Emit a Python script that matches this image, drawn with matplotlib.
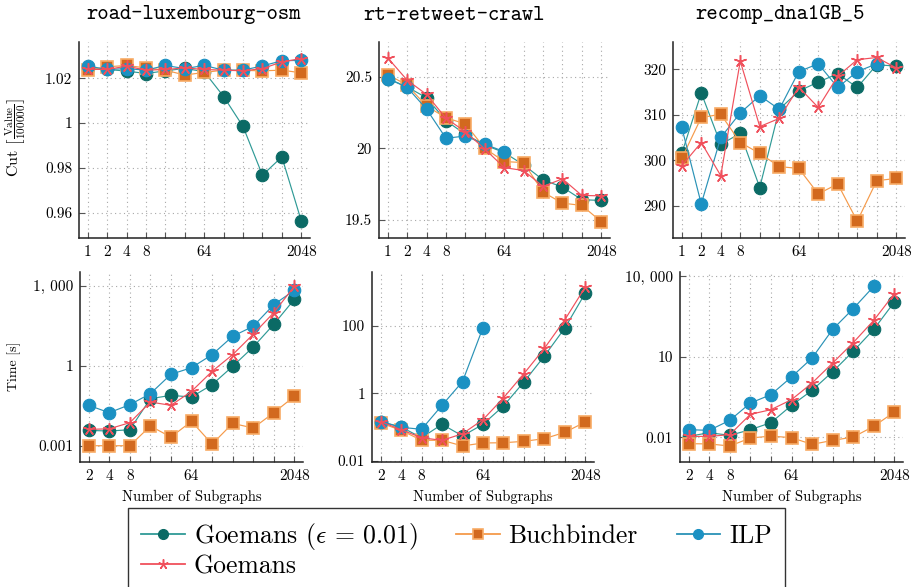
import numpy as np
import matplotlib
matplotlib.use("Agg")
import matplotlib.pyplot as plt
from matplotlib.lines import Line2D
from matplotlib.ticker import FixedLocator, FixedFormatter, NullLocator

plt.rcParams["mathtext.fontset"] = "cm"
plt.rcParams["font.family"] = ["cmr10", "DejaVu Serif"]
plt.rcParams["axes.unicode_minus"] = False
plt.rcParams["axes.formatter.use_mathtext"] = True

# ---------------------------------------------------------------- data
k_cut = [1, 2, 4, 8, 16, 32, 64, 128, 256, 512, 1024, 2048]
k_time = [2, 4, 8, 16, 32, 64, 128, 256, 512, 1024, 2048]
labeled_cut = [1, 2, 4, 8, 64, 2048]
labeled_time = [2, 4, 8, 64, 2048]

instances = ["road-luxembourg-osm", "rt-retweet-crawl", "recomp_dna1GB_5"]
series_names = ["Goemans ($\\epsilon\\,=\\,0.01$)", "Buchbinder", "ILP", "Goemans"]

# cut value / 100000, road-luxembourg-osm
lux_cut_geps = [1.0245, 1.0240, 1.0233, 1.0222, 1.0234, 1.0245, 1.0230, 1.0119, 0.9985, 0.9767, 0.9849, 0.9563]
lux_cut_buch = [1.0237, 1.0252, 1.0258, 1.0247, 1.0237, 1.0215, 1.0227, 1.0237, 1.0236, 1.0234, 1.0237, 1.0225]
lux_cut_ilp = [1.0256, 1.0240, 1.0244, 1.0237, 1.0258, 1.0244, 1.0258, 1.0237, 1.0237, 1.0256, 1.0279, 1.0281]
lux_cut_goem = [1.0241, 1.0240, 1.0255, 1.0237, 1.0240, 1.0247, 1.0240, 1.0237, 1.0234, 1.0244, 1.0274, 1.0289]

# cut value / 100000, rt-retweet-crawl
rt_cut_geps = [20.488, 20.430, 20.353, 20.193, 20.098, 20.023, 19.970, 19.884, 19.779, 19.728, 19.640, 19.635]
rt_cut_buch = [20.516, 20.442, 20.295, 20.214, 20.170, 20.000, 19.907, 19.900, 19.693, 19.616, 19.600, 19.486]
rt_cut_ilp = [20.488, 20.426, 20.274, 20.070, 20.086, 20.028, 19.977]
rt_cut_goem = [20.633, 20.477, 20.377, 20.210, 20.116, 19.995, 19.865, 19.844, 19.733, 19.786, 19.670, 19.667]

# cut value / 100000, recomp_dna1GB_5
dna_cut_geps = [301.5, 314.8, 303.5, 305.9, 294.0, 311.2, 315.2, 317.2, 319.0, 316.0, 321.0, 320.7]
dna_cut_buch = [300.4, 309.4, 310.1, 303.9, 301.5, 298.6, 298.2, 292.6, 294.8, 286.6, 295.5, 296.0]
dna_cut_ilp = [307.2, 290.4, 305.0, 310.4, 314.2, 311.2, 319.5, 321.2, 316.0, 319.5, 321.2]
dna_cut_goem = [298.8, 303.9, 296.6, 321.8, 307.4, 309.2, 316.1, 311.6, 318.5, 322.1, 322.6, 320.3]

# running time [s], road-luxembourg-osm
lux_time_geps = [0.00376, 0.00355, 0.00398, 0.0579, 0.0772, 0.0668, 0.194, 0.944, 5.01, 35.5, 307]
lux_time_buch = [0.00100, 0.00100, 0.00100, 0.00546, 0.00211, 0.00818, 0.00115, 0.00688, 0.00460, 0.0173, 0.0708]
lux_time_ilp = [0.0326, 0.0173, 0.0345, 0.0891, 0.473, 0.841, 2.58, 12.6, 29.9, 194, 668]
lux_time_goem = [0.0041, 0.0043, 0.0073, 0.0434, 0.0326, 0.109, 0.613, 2.58, 15.0, 97.2, 944]

# running time [s], rt-retweet-crawl
rt_time_geps = [0.144, 0.100, 0.048, 0.120, 0.054, 0.120, 0.42, 2.17, 12.8, 87.2, 955]
rt_time_buch = [0.131, 0.0796, 0.0402, 0.0402, 0.0273, 0.0335, 0.0340, 0.0375, 0.045, 0.0695, 0.141]
rt_time_ilp = [0.144, 0.098, 0.085, 0.44, 2.22, 89.3]
rt_time_goem = [0.144, 0.083, 0.048, 0.040, 0.063, 0.165, 0.73, 3.84, 21.7, 154, 1439]

# running time [s], recomp_dna1GB_5
dna_time_geps = [0.0107, 0.0147, 0.0117, 0.019, 0.0347, 0.153, 0.556, 2.76, 15.8, 104, 1089]
dna_time_buch = [0.00573, 0.0056, 0.00469, 0.0093, 0.011, 0.0096, 0.0054, 0.0076, 0.0101, 0.0254, 0.0867]
dna_time_ilp = [0.019, 0.018, 0.0424, 0.187, 0.384, 1.75, 8.9, 104, 615, 4180]
dna_time_goem = [0.0107, 0.0107, 0.0124, 0.071, 0.106, 0.25, 1.04, 5.8, 33.3, 226, 2228]

cut_ticks = [[0.96, 0.98, 1.0, 1.02], [19.5, 20.0, 20.5], [290, 300, 310, 320]]
cut_ticklabels = [["0.96", "0.98", "1", "1.02"], ["19.5", "20", "20.5"], ["290", "300", "310", "320"]]
time_ticks = [[0.001, 1, 1000], [0.01, 1, 100], [0.01, 10, 10000]]
time_ticklabels = [["0.001", "1", "1, 000"], ["0.01", "1", "100"], ["0.01", "10", "10, 000"]]

cut_data = [
    [lux_cut_geps, lux_cut_buch, lux_cut_ilp, lux_cut_goem],
    [rt_cut_geps, rt_cut_buch, rt_cut_ilp, rt_cut_goem],
    [dna_cut_geps, dna_cut_buch, dna_cut_ilp, dna_cut_goem],
]
time_data = [
    [lux_time_geps, lux_time_buch, lux_time_ilp, lux_time_goem],
    [rt_time_geps, rt_time_buch, rt_time_ilp, rt_time_goem],
    [dna_time_geps, dna_time_buch, dna_time_ilp, dna_time_goem],
]

# ---------------------------------------------------------------- styles
styles = [
    dict(color="#2f9a96", marker="o", markerfacecolor="#0b6a65", markeredgecolor="#0b6a65",
         markersize=9.0, markeredgewidth=0.8),
    dict(color="#f59a4a", marker="s", markerfacecolor="#d2691e", markeredgecolor="#f8ac66",
         markersize=8.3, markeredgewidth=1.2),
    dict(color="#2a92b6", marker="o", markerfacecolor="#1b91c3", markeredgecolor="#1b91c3",
         markersize=9.0, markeredgewidth=0.8),
    dict(color="#f0505c", marker=(5, 2, 0), markerfacecolor="#f0505c", markeredgecolor="#f0505c",
         markersize=9.0, markeredgewidth=1.1),
]

W, H = 911, 587
fig = plt.figure(figsize=(W / 100, H / 100), dpi=100)


def px_axes(left, right, top, bottom):
    return fig.add_axes([left / W, 1 - bottom / H, (right - left) / W, (bottom - top) / H])


top_boxes = [(79, 310), (379, 610), (673, 905)]
bot_boxes = [(80, 303), (372, 594), (680, 903)]
cut_ylims = [(0.9486, 1.0363), (19.372, 20.744), (282.9, 326.0)]
time_ylims = [(10 ** -3.61, 10 ** 3.51), (10 ** -2.04, 10 ** 3.6), (10 ** -2.925, 10 ** 4.155)]
title_x = [194, 454, 780]


def style_axes(ax, kvals, labeled):
    for s in ["top", "right"]:
        ax.spines[s].set_visible(False)
    for s in ["left", "bottom"]:
        ax.spines[s].set_linewidth(1.1)
        ax.spines[s].set_color("#222222")
    ax.set_xscale("log", base=2)
    ax.xaxis.set_major_locator(FixedLocator(kvals))
    ax.xaxis.set_major_formatter(FixedFormatter([str(k) if k in labeled else "" for k in kvals]))
    ax.xaxis.set_minor_locator(NullLocator())
    ax.yaxis.set_minor_locator(NullLocator())
    ax.tick_params(axis="both", direction="in", length=4.5, width=0.8, color="#555555",
                   labelsize=11, pad=5)
    ax.grid(True, which="major", color="#a8a8a8", linestyle=(0, (1, 3)), linewidth=0.8)
    ax.set_axisbelow(True)


for i in range(3):
    # cut row
    l, r = top_boxes[i]
    ax = px_axes(l, r, 42, 238)
    style_axes(ax, k_cut, labeled_cut)
    for vals, st in zip(cut_data[i], styles):
        ax.plot(k_cut[:len(vals)], vals, linewidth=0.85, clip_on=False, **st)
    ax.set_xlim(2 ** -0.45, 2 ** 11.45)
    ax.set_ylim(*cut_ylims[i])
    ax.yaxis.set_major_locator(FixedLocator(cut_ticks[i]))
    ax.yaxis.set_major_formatter(FixedFormatter(cut_ticklabels[i]))
    fig.text(title_x[i] / W, 1 - 15 / H, instances[i], family="cmtt10", fontsize=15.5,
             ha="center", va="center")

    # time row
    l, r = bot_boxes[i]
    ax = px_axes(l, r, 272, 462)
    style_axes(ax, k_time, labeled_time)
    ax.set_yscale("log")
    ax.yaxis.set_minor_locator(NullLocator())
    for vals, st in zip(time_data[i], styles):
        ax.plot(k_time[:len(vals)], vals, linewidth=0.85, clip_on=False, **st)
    ax.set_xlim(2 ** 0.58, 2 ** 11.42)
    ax.set_ylim(*time_ylims[i])
    ax.yaxis.set_major_locator(FixedLocator(time_ticks[i]))
    ax.yaxis.set_major_formatter(FixedFormatter(time_ticklabels[i]))
    ax.yaxis.set_minor_locator(NullLocator())
    ax.text(0.5, -0.185, "Number of Subgraphs", transform=ax.transAxes, ha="center",
            va="center", fontsize=10.5)

fig.text(16 / W, 1 - 137 / H, r"Cut $\left[\frac{\mathrm{Value}}{100000}\right]$",
         rotation=90, ha="center", va="center", fontsize=11.5)
fig.text(14 / W, 1 - 366 / H, "Time [s]", rotation=90, ha="center", va="center", fontsize=10)

# ---------------------------------------------------------------- legend
handles = [Line2D([], [], linewidth=1.3, **{**st, "markersize": st["markersize"] * 0.8})
           for st in styles]
order = [0, 3, 1, 2]
leg = fig.legend([handles[j] for j in order], [series_names[j] for j in order],
                 loc="upper center", bbox_to_anchor=(456.5 / W, 1 - 508 / H), ncol=3,
                 fontsize=18.5, frameon=True, fancybox=False, framealpha=1.0,
                 edgecolor="#333333", handlelength=1.7, handletextpad=0.35,
                 columnspacing=1.5, borderpad=0.5, labelspacing=0.1, borderaxespad=0)
leg.get_frame().set_linewidth(1.0)

fig.savefig("out.png", dpi=100)
